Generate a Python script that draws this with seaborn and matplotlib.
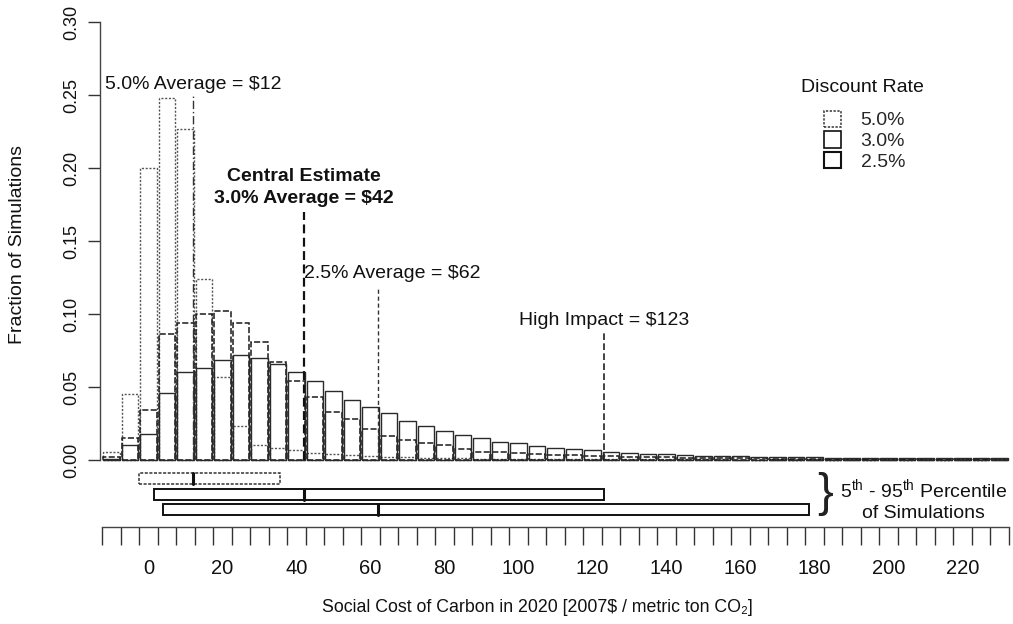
import numpy as np
import pandas as pd
import matplotlib
matplotlib.use("Agg")
import matplotlib.pyplot as plt
from matplotlib.patches import Patch
import seaborn as sns

# ---- data -------------------------------------------------------------
bin_centers = list(range(-10, 235, 5))          # $/tCO2, 5-dollar bins

frac_5_0 = [0.0055, 0.045, 0.200, 0.248, 0.227, 0.124, 0.057, 0.023, 0.010, 0.008,
            0.007, 0.0046, 0.004, 0.0034, 0.0027, 0.0020, 0.0018, 0.0015, 0.0013, 0.0011,
            0.0010, 0.0009, 0.0008, 0.0007, 0.0007, 0.0006, 0.0006, 0.0005, 0.0005, 0.0005,
            0.0004, 0.0004, 0.0004, 0.0004, 0.0003, 0.0003, 0.0003, 0.0003, 0.0003, 0.0003,
            0.0003, 0.0002, 0.0002, 0.0002, 0.0002, 0.0002, 0.0002, 0.0002, 0.0002]
frac_3_0 = [0.002, 0.015, 0.034, 0.086, 0.094, 0.100, 0.102, 0.094, 0.081, 0.067,
            0.054, 0.043, 0.033, 0.028, 0.021, 0.0165, 0.014, 0.0115, 0.0105, 0.0073,
            0.0057, 0.0057, 0.0046, 0.0041, 0.0034, 0.0034, 0.0027, 0.0027, 0.0024, 0.0021,
            0.0019, 0.0017, 0.0015, 0.0013, 0.0012, 0.0011, 0.0010, 0.0009, 0.0008, 0.0008,
            0.0007, 0.0007, 0.0006, 0.0006, 0.0006, 0.0005, 0.0005, 0.0005, 0.0004]
frac_2_5 = [0.001, 0.010, 0.018, 0.046, 0.060, 0.063, 0.0685, 0.072, 0.070, 0.066,
            0.0605, 0.054, 0.047, 0.041, 0.036, 0.032, 0.027, 0.023, 0.0197, 0.017,
            0.0148, 0.0126, 0.0114, 0.0096, 0.0080, 0.0073, 0.0068, 0.0057, 0.0050, 0.0043,
            0.0038, 0.0034, 0.0030, 0.0027, 0.0025, 0.0023, 0.0021, 0.0019, 0.0018, 0.0017,
            0.0016, 0.0015, 0.0014, 0.0013, 0.0013, 0.0012, 0.0012, 0.0011, 0.0011]

rates = ["5.0%", "3.0%", "2.5%"]
averages = [12, 42, 62]
pct_5th = [-2.5, 1.5, 4.0]
pct_95th = [35.5, 123.0, 178.5]
high_impact = 123

x_tick_values = list(range(0, 240, 20))
y_tick_values = [0.00, 0.05, 0.10, 0.15, 0.20, 0.25, 0.30]

# ---- styling ------------------------------------------------------------
sns.set_theme(style="white")
plt.rcParams["font.family"] = ["Liberation Sans", "DejaVu Sans"]
plt.rcParams["mathtext.fontset"] = "custom"
plt.rcParams["mathtext.rm"] = "Liberation Sans"
plt.rcParams["mathtext.it"] = "Liberation Sans:italic"
plt.rcParams["mathtext.bf"] = "Liberation Sans:bold"

W, H = 1013, 624
fig = plt.figure(figsize=(W / 100, H / 100), dpi=100)
ax = fig.add_axes([100 / W, 1 - 527.2 / H, 910 / W, (527.2 - 22) / H])

df = pd.DataFrame({
    "center": bin_centers * 3,
    "frac": frac_5_0 + frac_3_0 + frac_2_5,
    "rate": [rates[0]] * len(bin_centers) + [rates[1]] * len(bin_centers) + [rates[2]] * len(bin_centers),
})
bin_width = 5
lo_edge = bin_centers[0] - bin_width / 2
hi_edge = bin_centers[-1] + bin_width / 2
edges = np.arange(lo_edge, hi_edge + 0.1, bin_width)

line_styles = {
    "5.0%": dict(linestyle=(0, (1.5, 1.2)), color="#555555", linewidth=1.0),
    "3.0%": dict(linestyle=(0, (4, 1.5)), color="#1a1a1a", linewidth=1.1),
    "2.5%": dict(linestyle="-", color="#2a2a2a", linewidth=1.0),
}

for rate in rates:
    sub = df[df["rate"] == rate].reset_index(drop=True)
    sns.histplot(data=sub, x="center", weights="frac", binwidth=bin_width,
                 binrange=(lo_edge, hi_edge), fill=False, element="bars", shrink=0.9,
                 ax=ax, **line_styles[rate])

# percentile boxes below the histogram
box_y = [-0.0128, -0.0238, -0.0342]
box_h = 0.0075
box_styles = [
    dict(linestyle=(0, (2, 1)), edgecolor="#333333", linewidth=1.1),
    dict(linestyle="-", edgecolor="#111111", linewidth=1.4),
    dict(linestyle="-", edgecolor="#111111", linewidth=1.4),
]
for yb, lo, hi, avg, st in zip(box_y, pct_5th, pct_95th, averages, box_styles):
    ax.barh(yb, hi - lo, left=lo, height=box_h, fill=False, **st)
    ax.plot([avg, avg], [yb - box_h / 2, yb + box_h / 2], color="#111111", linewidth=2.2)

# average markers
ax.plot([averages[0]] * 2, [0, 0.250], color="#333333", linewidth=1.0, linestyle=(0, (6, 2, 1, 2)))
ax.plot([averages[1]] * 2, [0, 0.170], color="#111111", linewidth=1.6, linestyle=(0, (4, 2)))
ax.plot([averages[2]] * 2, [0, 0.118], color="#333333", linewidth=1.0, linestyle=(0, (3, 2)))
ax.plot([high_impact] * 2, [0, 0.087], color="#222222", linewidth=1.2, linestyle=(0, (4, 2)))

txt = dict(fontsize=14, color="#111111", ha="center", va="center")
ax.text(averages[0], 0.257, "5.0% Average = \\$12", **txt)
ax.text(averages[1], 0.1945, "Central Estimate", fontweight="bold", **txt)
ax.text(averages[1], 0.1788, "3.0% Average = \\$42", fontweight="bold", **txt)
ax.text(66, 0.128, "2.5% Average = \\$62", **txt)
ax.text(high_impact, 0.0959, "High Impact = \\$123", **txt)

# axes
ax.set_xlim(-13.1, 232.8)
ax.set_ylim(-0.046, 0.30)
for s in ["top", "right"]:
    ax.spines[s].set_visible(False)
ax.spines["left"].set_bounds(0, 0.30)
ax.spines["bottom"].set_bounds(edges[0], edges[-1])
for s in ["left", "bottom"]:
    ax.spines[s].set_color("#444444")
    ax.spines[s].set_linewidth(1.0)

ax.set_yticks(y_tick_values)
ax.set_yticklabels([f"{v:.2f}" for v in y_tick_values], rotation=90, va="center")
ax.tick_params(axis="y", direction="out", length=9, width=1, pad=5, labelsize=13,
               colors="#333333", labelcolor="#111111", left=True)

ax.set_xticks(x_tick_values)
ax.set_xticklabels([str(v) for v in x_tick_values])
ax.set_xticks(edges, minor=True)
ax.tick_params(axis="x", which="major", length=0, pad=23, labelsize=14.5, labelcolor="#111111")
ax.tick_params(axis="x", which="minor", direction="out", length=13, width=1.0,
               color="#333333", bottom=True)
ax.set_xlabel("")
ax.set_ylabel("")

fig.text(18 / W, 1 - 245 / H, "Fraction of Simulations", rotation=90, ha="center", va="center",
         fontsize=14, color="#111111")
fig.text(537 / W, 1 - 607 / H, "Social Cost of Carbon in 2020 [2007$ / metric ton CO\u2082]",
         ha="center", va="center", fontsize=12.8, color="#111111")

# legend
fig.text(862 / W, 1 - 87 / H, "Discount Rate", ha="center", va="center", fontsize=14,
         color="#111111")
handles = [Patch(facecolor="white", edgecolor="#333333", linestyle=(0, (1.5, 1)), linewidth=1.1),
           Patch(facecolor="white", edgecolor="#111111", linestyle="-", linewidth=1.2),
           Patch(facecolor="white", edgecolor="#111111", linestyle="-", linewidth=1.5)]
leg = ax.legend(handles, rates, loc="upper left",
                bbox_to_anchor=(814 / W, 1 - 101 / H), bbox_transform=fig.transFigure,
                frameon=False, fontsize=14, handlelength=0.9, borderpad=0,
                handleheight=0.9, handletextpad=1.0, labelspacing=0.1)

# percentile bracket
fig.text(825 / W, 1 - 494 / H, "}", fontsize=34, ha="center", va="center", color="#222222",
         fontweight="light")
fig.text(924 / W, 1 - 489 / H, r"5$^{\mathrm{th}}$ - 95$^{\mathrm{th}}$ Percentile",
         ha="center", va="center", fontsize=14, color="#111111")
fig.text(923 / W, 1 - 513 / H, "of Simulations", ha="center", va="center", fontsize=14,
         color="#111111")

fig.savefig("out.png", dpi=100, facecolor="white")
